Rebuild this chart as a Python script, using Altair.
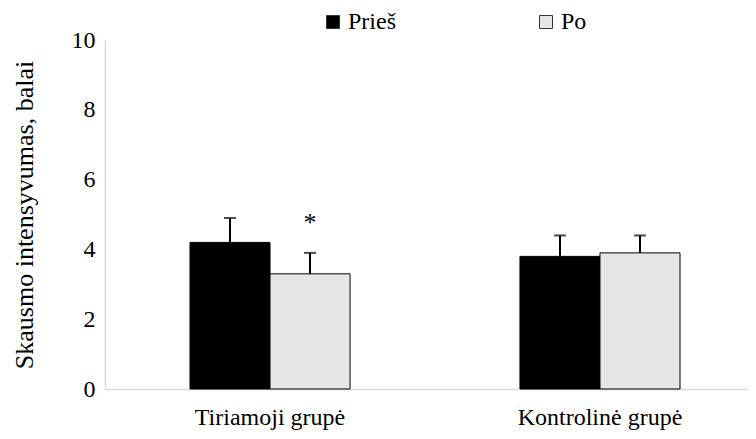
import altair as alt
import pandas as pd

groups = ["Tiriamoji grupė", "Tiriamoji grupė", "Kontrolinė grupė", "Kontrolinė grupė"]
series = ["Prieš", "Po", "Prieš", "Po"]
values = [4.2, 3.3, 3.8, 3.9]
err_top = [4.9, 3.9, 4.4, 4.4]
star_group = ["Tiriamoji grupė"]
star_series = ["Po"]
star_y = [4.75]

df = pd.DataFrame({"group": groups, "series": series, "value": values, "top": err_top})
stars = pd.DataFrame({"group": star_group, "series": star_series, "y": star_y})

FONT = "Liberation Serif"
group_order = ["Tiriamoji grupė", "Kontrolinė grupė"]
series_order = ["Prieš", "Po"]

x = alt.X("group:N", sort=group_order, title=None,
          scale=alt.Scale(paddingInner=0.515, paddingOuter=0.2576, range=[0, 660]),
          axis=alt.Axis(labelAngle=0, ticks=False, domainColor="#d9d9d9", domainWidth=1.5, labelPadding=16,
                        labelFont=FONT, labelFontSize=24, labelColor="black"))
xo = alt.XOffset("series:N", sort=series_order, scale=alt.Scale(paddingInner=0, paddingOuter=0))
y = alt.Y("value:Q", scale=alt.Scale(domain=[0, 10], nice=False),
          title="Skausmo intensyvumas, balai",
          axis=alt.Axis(values=[0, 2, 4, 6, 8, 10], grid=False, ticks=False, domainColor="#d9d9d9",
                        domainWidth=1.5, labelPadding=10, titlePadding=34,
                        labelFont=FONT, titleFont=FONT, labelFontSize=24, titleFontSize=26,
                        labelColor="black", titleColor="black", titleFontWeight="normal"))

bars = alt.Chart(df).mark_bar(stroke="black", strokeWidth=1).encode(
    x=x, xOffset=xo, y=y,
    color=alt.Color("series:N", sort=series_order,
                    scale=alt.Scale(domain=series_order, range=["black", "#e6e6e6"]),
                    legend=alt.Legend(title=None, orient="none", direction="horizontal",
                                      legendX=216, legendY=-30, symbolType="square", symbolSize=169,
                                      symbolStrokeColor="#333333", symbolStrokeWidth=1,
                                      labelFont=FONT, labelFontSize=24, labelColor="black",
                                      labelOffset=3, columnPadding=138)),
)

rules = alt.Chart(df).mark_rule(color="black", strokeWidth=2).encode(
    x=alt.X("group:N", sort=group_order), xOffset=xo,
    y=alt.Y("value:Q"), y2="top:Q")

caps = alt.Chart(df).mark_tick(color="black", thickness=2, size=12, orient="horizontal").encode(
    x=alt.X("group:N", sort=group_order), xOffset=xo, y=alt.Y("top:Q"))

star = alt.Chart(stars).mark_text(text="*", font=FONT, fontSize=26, color="black", baseline="middle").encode(
    x=alt.X("group:N", sort=group_order), xOffset=alt.XOffset("series:N", sort=series_order),
    y=alt.Y("y:Q"))

chart = alt.layer(bars, rules, caps, star).properties(
    width=643, height=349, autosize="none",
    padding={"left": 97, "top": 32, "right": 0, "bottom": 50},
).configure(
    font=FONT, background="white",
).configure_view(
    stroke=None
)

chart.save("out.html", embed_options={"renderer": "svg", "actions": False})
